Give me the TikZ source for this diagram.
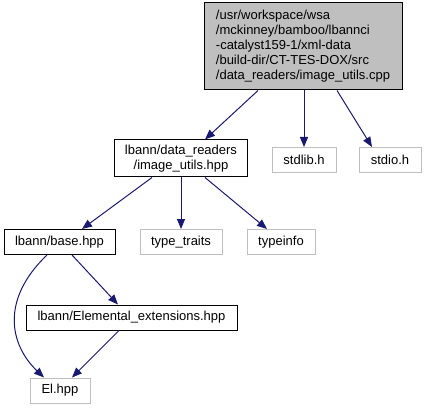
\documentclass[tikz,border=0pt]{standalone}
\usepackage{fontspec}
\setmainfont{Liberation Sans}
\usetikzlibrary{arrows.meta}
\definecolor{edgec}{HTML}{191970}
\definecolor{grayc}{HTML}{BFBFBF}
\begin{document}
\begin{tikzpicture}[x=1pt,y=-1pt,
  every node/.style={font=\fontsize{13}{15}\selectfont, inner sep=0pt, line width=1pt},
  mainbox/.style={draw=black, minimum height=25pt, align=center},
  extbox/.style={draw=grayc, minimum height=25pt, align=center},
  edge/.style={draw=edgec, line width=1pt, -{Triangle[length=10pt,width=8pt]}}]
\useasboundingbox (0,0) rectangle (427,411);
\node[draw=black, fill=grayc, minimum width=198pt, minimum height=87pt, align=left] (top) at (303,46.5)
 {/usr/workspace/wsa\\/mckinney/bamboo/lbannci\\-catalyst159-1/xml-data\\/build-dir/CT-TES-DOX/src\\/data\_readers/image\_utils.cpp};
\node[mainbox, minimum width=133pt, minimum height=37pt] (iu) at (181,158.5) {lbann/data\_readers\\/image\_utils.hpp};
\node[extbox, minimum width=64pt] (stdlib) at (304,160) {stdlib.h};
\node[extbox, minimum width=62pt] (stdio) at (390,160) {stdio.h};
\node[mainbox, minimum width=111pt] (base) at (59.5,242) {lbann/base.hpp};
\node[extbox, minimum width=82pt] (tt) at (181,242) {type\_traits};
\node[extbox, minimum width=68pt] (ti) at (281,242) {typeinfo};
\node[mainbox, minimum width=211pt] (elx) at (131.5,317.5) {lbann/Elemental\_extensions.hpp};
\node[extbox, minimum width=60pt] (el) at (60,390.5) {El.hpp};
\path[edge] ([xshift=-45pt]top.south) -- ([xshift=24pt]iu.north);
\path[edge] ([xshift=1pt]top.south) -- (stdlib.north);
\path[edge] ([xshift=34pt]top.south) -- ([xshift=-18pt]stdio.north);
\path[edge] ([xshift=-29pt]iu.south) -- ([xshift=22.5pt]base.north);
\path[edge] (iu.south) -- (tt.north);
\path[edge] ([xshift=24pt]iu.south) -- ([xshift=-14pt]ti.north);
\path[edge] ([xshift=-12.5pt]base.south) .. controls (0,300) and (10,345) .. ([xshift=-16pt]el.north);
\path[edge] ([xshift=12.5pt]base.south) -- ([xshift=-13.5pt]elx.north);
\path[edge] ([xshift=-12.5pt]elx.south) -- ([xshift=12pt]el.north);
\end{tikzpicture}
\end{document}
